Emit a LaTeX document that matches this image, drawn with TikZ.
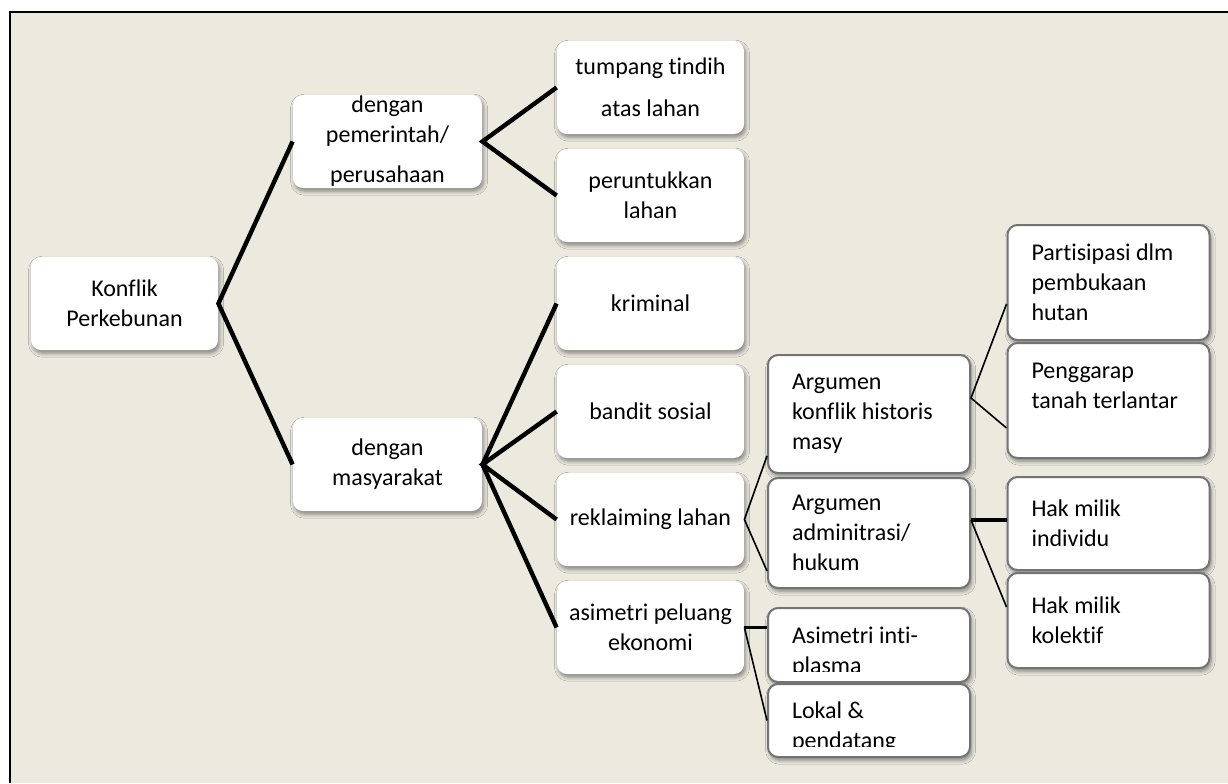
\documentclass[tikz,border=0pt]{standalone}
\usepackage{fontspec}
\setmainfont[Ligatures=NoCommon]{Carlito}
\usetikzlibrary{shadows.blur}
\definecolor{paper}{RGB}{236,233,223}
\definecolor{boxline}{RGB}{115,115,115}
\newcommand\plainspaces{\spaceskip=0pt\relax\xspaceskip=0pt\relax}

\begin{document}
\begin{tikzpicture}[x=0.5pt,y=-0.5pt,
  box/.style={fill=white, rounded corners=5pt, inner sep=2pt, inner ysep=0pt,
    font=\fontsize{12}{15}\selectfont, execute at begin node=\plainspaces,
    blur shadow={shadow xshift=0.8pt, shadow yshift=-1.6pt, shadow blur radius=2pt,
      shadow blur steps=6, shadow opacity=45}},
  mainbox/.style={box, align=center, minimum width=93.5pt, minimum height=46.5pt},
  sidebox/.style={box, draw=boxline, line width=1pt, align=left, text width=77pt,
    inner xsep=12pt, minimum width=101pt},
  boxtext/.style={font=\fontsize{12}{15}\selectfont, inner sep=0pt,
    execute at begin node=\plainspaces},
  stem/.style={line width=2.2pt},
  twig/.style={line width=0.8pt}]
\useasboundingbox (0,0) rectangle (1228,783);
\fill[white] (0,0) rectangle (1228,783);
\fill[paper] (10,12) rectangle (1228,783);
\draw[line width=1.2pt] (10,783) -- (10,12) -- (1228,12);

\node[mainbox] (konflik) at (124.5,303.5) {Konflik\\Perkebunan};
\node[mainbox, minimum width=94.5pt] (pemerintah) at (387.5,141.5) {};
\node[boxtext, align=center] (pemerintahtxt) at (pemerintah.center) {dengan\\pemerintah/\\[5pt]perusahaan};
\node[mainbox, minimum width=94.5pt] (masyarakat) at (387.5,464.5) {dengan\\masyarakat};

\node[mainbox] (tumpang) at (650.5,87.5) {tumpang tindih\\[6pt]atas lahan};
\node[mainbox] (peruntukkan) at (650.5,195.5) {peruntukkan\\lahan};
\node[mainbox] (kriminal) at (650.5,303.5) {kriminal};
\node[mainbox] (bandit) at (650.5,411.5) {bandit sosial};
\node[mainbox] (reklaiming) at (650.5,519.5) {reklaiming lahan};
\node[mainbox] (asimetri) at (650.5,627.5) {asimetri peluang\\ekonomi};

\node[sidebox, minimum height=59pt] (arghist) at (869,414) {Argumen\\konflik historis\\masy};
\node[sidebox, minimum height=55pt] (argadm) at (869,533) {Argumen\\adminitrasi/\\hukum};
\node[sidebox, minimum height=37pt] (intiplasma) at (869,645) {};
\node[sidebox, minimum height=36.5pt] (lokal) at (869,720.5) {};

\node[sidebox, minimum height=57.5pt] (partisipasi) at (1108.5,282.5) {Partisipasi dlm\\pembukaan\\hutan};
\node[sidebox, minimum height=57.5pt] (penggarap) at (1108.5,400.5) {Penggarap\\tanah terlantar\\\mbox{}};
\node[sidebox, minimum height=46.5pt] (hakindividu) at (1108.5,523.5) {Hak milik\\individu};
\node[sidebox, minimum height=47.5pt] (hakkolektif) at (1108.5,620.5) {Hak milik\\kolektif};

\begin{scope}
\clip (intiplasma.north west) rectangle ([yshift=6pt]intiplasma.south east);
\node[boxtext, align=left, text width=77pt] (intiplasmatxt) at ([yshift=-3.5pt]intiplasma.center) {Asimetri inti-\\plasma};
\end{scope}
\begin{scope}
\clip (lokal.north west) rectangle ([yshift=6pt]lokal.south east);
\node[boxtext, align=left, text width=77pt] (lokaltxt) at ([yshift=-3.5pt]lokal.center) {Lokal \&\\pendatang};
\end{scope}

\draw[stem] (pemerintah.west) -- (konflik.east) -- (masyarakat.west);
\draw[stem] (tumpang.west) -- (pemerintah.east) -- (peruntukkan.west);
\draw[stem] (kriminal.west) -- (masyarakat.east) -- (asimetri.west);
\draw[stem] (bandit.west) -- (masyarakat.east) -- (reklaiming.west);

\draw[twig] ([yshift=9pt]arghist.south west) -- (reklaiming.east) -- ([yshift=9pt]argadm.south west);
\draw[twig] ([yshift=18.5pt]partisipasi.south west) -- ([yshift=8pt]arghist.east) -- ([yshift=15.5pt]penggarap.south west);
\coordinate (admout) at ([yshift=6.5pt]argadm.east);
\draw[twig, line width=1.6pt] (admout) -- (admout -| hakindividu.west);
\draw[twig] (admout) -- ([yshift=6.75pt]hakkolektif.west);
\draw[twig, line width=1.6pt] (asimetri.east) -- (asimetri.east -| intiplasma.west);
\draw[twig] (asimetri.east) -- (lokal.west);
\end{tikzpicture}
\end{document}
